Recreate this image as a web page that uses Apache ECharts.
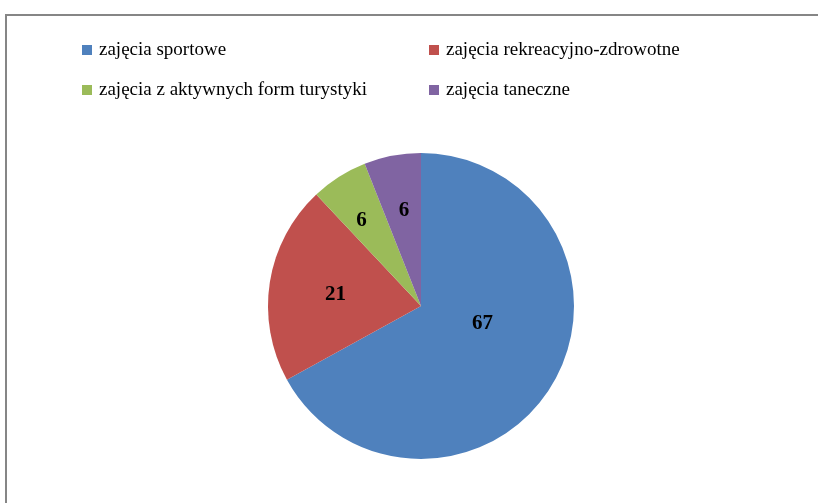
<!DOCTYPE html>
<html>
<head>
<meta charset="utf-8">
<script src="https://cdn.jsdelivr.net/npm/echarts@6/dist/echarts.min.js"></script>
<style>
  html, body { margin: 0; padding: 0; background: #fff; }
  #chart { width: 818px; height: 503px; }
</style>
</head>
<body>
<div id="chart"></div>
<script>
// dane z wykresu (%)
const categories = [
  "zajęcia sportowe",
  "zajęcia rekreacyjno-zdrowotne",
  "zajęcia z aktywnych form turystyki",
  "zajęcia taneczne"
];
const values = [67, 21, 6, 6];
const colors = ["#4F81BD", "#C0504D", "#9BBB59", "#8064A2"];

const serif = "'Liberation Serif', 'Times New Roman', serif";

let mychart = echarts.init(document.getElementById("chart"));

const legendBase = {
  orient: "vertical",
  top: 35,
  itemWidth: 10,
  itemHeight: 10,
  itemGap: 20,
  icon: "rect",
  selectedMode: false,
  textStyle: {
    fontFamily: serif,
    fontSize: 19,
    lineHeight: 20,
    color: "#000",
    padding: [0, 0, 0, 2]
  }
};

// przesunięcia etykiet względem środka wycinka (jak w Excelu)
const labelShift = [[-7, -23], [-7, 1], [-17, -18], [-2, -17]];

mychart.setOption({
  animation: false,
  color: colors,
  graphic: [
    {
      type: "rect",
      shape: { x: 6, y: 15, width: 900, height: 600 },
      style: { fill: "none", stroke: "#868686", lineWidth: 2 },
      silent: true
    }
  ],
  legend: [
    Object.assign({}, legendBase, { left: 77, data: [categories[0], categories[2]] }),
    Object.assign({}, legendBase, { left: 424, data: [categories[1], categories[3]] })
  ],
  series: [
    {
      type: "pie",
      center: [421, 306],
      radius: 153,
      startAngle: 90,
      clockwise: true,
      avoidLabelOverlap: false,
      labelLayout: { hideOverlap: false },
      label: {
        show: true,
        position: "inside",
        formatter: "{c}",
        fontFamily: serif,
        fontWeight: "bold",
        fontSize: 21,
        color: "#000"
      },
      labelLine: { show: false },
      itemStyle: { borderWidth: 0 },
      emphasis: { disabled: true },
      data: categories.map((name, i) => ({
        name: name,
        value: values[i],
        label: { offset: labelShift[i] }
      }))
    }
  ]
});
</script>
</body>
</html>
